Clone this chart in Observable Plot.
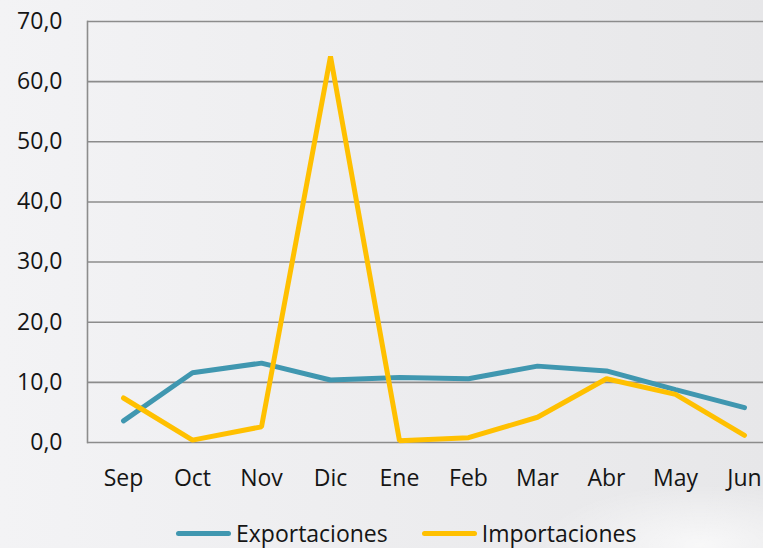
<!DOCTYPE html>
<html><head><meta charset="utf-8">
<script src="https://cdn.jsdelivr.net/npm/d3@7"></script>
<script src="https://cdn.jsdelivr.net/npm/@observablehq/plot@0.6"></script>
<style>
html,body{margin:0;padding:0;width:763px;height:548px;overflow:hidden;}
body{background:radial-gradient(ellipse 160px 60px at 700px 545px, rgba(255,255,255,0.7), rgba(255,255,255,0)), linear-gradient(to right,#f3f3f5,#e7e7e9);font-family:"Open Sans",sans-serif;}
#chart svg{display:block;background:transparent;}
#legend{position:absolute;left:176px;top:517px;display:flex;align-items:center;font-size:23px;color:#151515;}
.sw{display:inline-block;width:55px;height:5px;border-radius:3px;margin-right:5px;}
.it{display:flex;align-items:center;margin-right:34px;}
</style></head>
<body>
<div id="chart"></div>
<div id="legend"></div>
<script>
const months = ["Sep","Oct","Nov","Dic","Ene","Feb","Mar","Abr","May","Jun"];
const exportaciones = [3.6,11.6,13.2,10.4,10.8,10.6,12.7,11.9,8.8,5.8];
const importaciones = [7.4,0.4,2.6,64.2,0.3,0.8,4.2,10.6,8.0,1.2];
const seriesNames = ["Exportaciones","Importaciones"];
const seriesColors = ["#4097b0","#ffc000"];
const yTicks = [0,10,20,30,40,50,60,70];

const data = [];
months.forEach((m,i)=>{
  data.push({mes:m, valor:exportaciones[i], serie:seriesNames[0]});
  data.push({mes:m, valor:importaciones[i], serie:seriesNames[1]});
});

const plot = Plot.plot({
  width:763, height:500,
  marginLeft:87, marginRight:-16, marginTop:21, marginBottom:58,
  style:{fontFamily:"Open Sans", fontSize:"23px", color:"#151515", background:"transparent"},
  x:{type:"point", domain:months, padding:0.5, label:null},
  y:{domain:[0,70], label:null},
  color:{domain:seriesNames, range:seriesColors},
  marks:[
    Plot.ruleY(yTicks,{stroke:"#8c8c8c", strokeWidth:1.6}),
    Plot.frame({anchor:"left", stroke:"#8c8c8c", strokeWidth:1.6}),
    Plot.axisY({ticks:yTicks, tickSize:0, tickPadding:25, tickFormat:d=>d.toFixed(1).replace(".",","), fontSize:23, label:null}),
    Plot.axisX({tickSize:0, tickPadding:27, fontSize:23, label:null}),
    Plot.line(data,{x:"mes", y:"valor", z:"serie", stroke:"serie", strokeWidth:5, strokeLinecap:"round", strokeLinejoin:"miter"})
  ]
});
document.getElementById("chart").appendChild(plot);

const leg = document.getElementById("legend");
seriesNames.forEach((n,i)=>{
  const it=document.createElement("div"); it.className="it";
  const sw=document.createElement("span"); sw.className="sw"; sw.style.background=seriesColors[i];
  const t=document.createElement("span"); t.textContent=n;
  it.appendChild(sw); it.appendChild(t); leg.appendChild(it);
});
</script>
</body></html>
